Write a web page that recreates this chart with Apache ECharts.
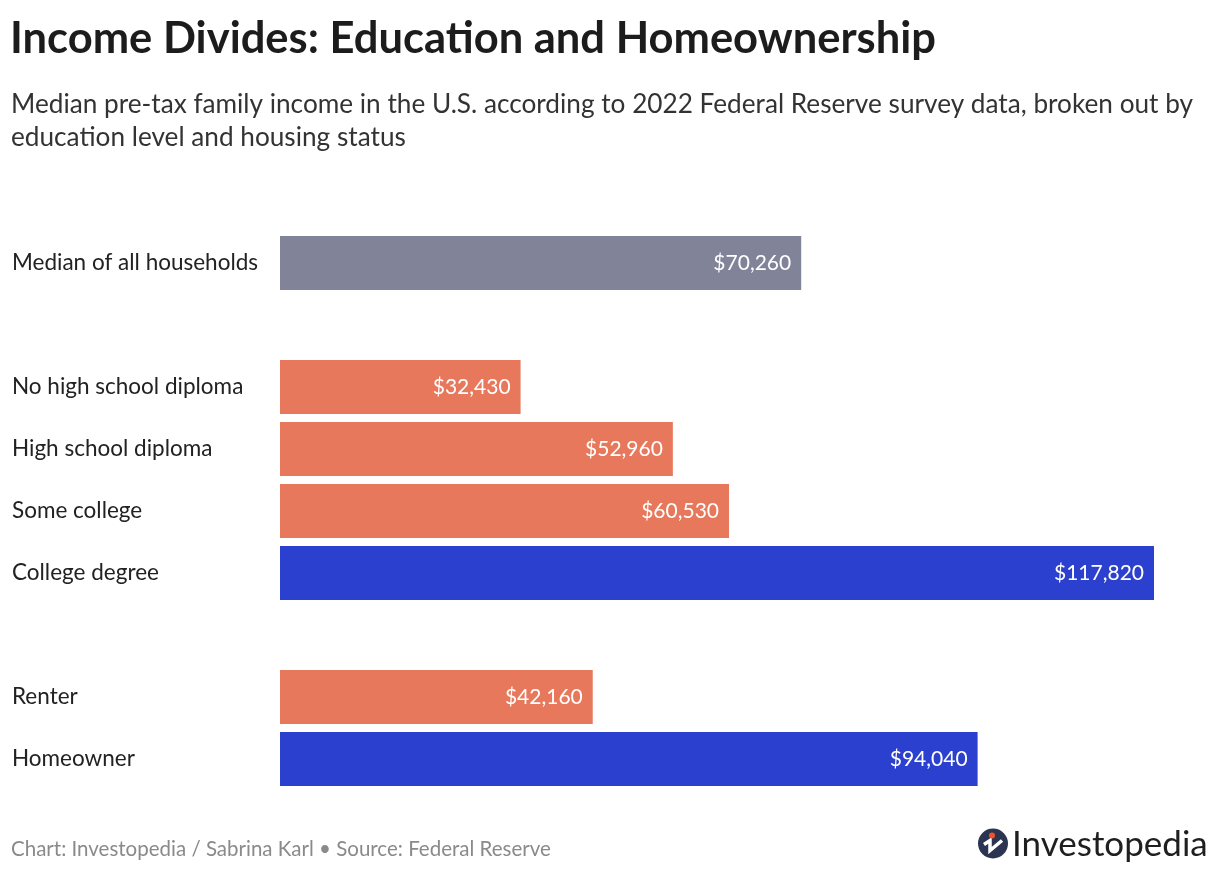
<!DOCTYPE html>
<html>
<head>
<meta charset="utf-8">
<title>Income Divides: Education and Homeownership</title>
<script src="https://cdn.jsdelivr.net/npm/echarts@6/dist/echarts.min.js"></script>
<style>
  html, body { margin: 0; padding: 0; background: #fff; }
  #main { width: 1220px; height: 872px; }
</style>
</head>
<body>
<div id="main"></div>
<script>
// 数据：空字符串是分组之间的空行
var categories = ['Median of all households', '', 'No high school diploma', 'High school diploma',
                  'Some college', 'College degree', '', 'Renter', 'Homeowner'];
var incomes = [70260, '-', 32430, 52960, 60530, 117820, '-', 42160, 94040];
var barColors = ['#818398', null, '#e8785b', '#e8785b', '#e8785b', '#2c40cf', null, '#e8785b', '#2c40cf'];

var FONT = 'Lato, "Noto Sans", sans-serif';

var myChart = echarts.init(document.getElementById('main'));

var option = {
    backgroundColor: '#fff',
    animation: false,
    title: [{
        text: 'Income Divides: Education and Homeownership',
        left: 10,
        top: 17,
        padding: 0,
        textStyle: { fontFamily: FONT, fontSize: 43.5, fontWeight: 'bold', color: '#1c1c1c' }
    }, {
        text: 'Median pre-tax family income in the U.S. according to 2022 Federal Reserve survey data, broken out by\neducation level and housing status',
        left: 11,
        top: 88,
        padding: 0,
        textStyle: { fontFamily: FONT, fontSize: 26.2, fontWeight: 'normal', color: '#333', lineHeight: 33 }
    }, {
        text: 'Chart: Investopedia / Sabrina Karl \u2022 Source: Federal Reserve',
        left: 11,
        top: 839,
        padding: 0,
        textStyle: { fontFamily: FONT, fontSize: 20.5, fontWeight: 'normal', color: '#8a8a8a' }
    }],
    grid: {
        left: 280,
        top: 232,
        width: 874,
        height: 558,
        containLabel: false
    },
    xAxis: {
        type: 'value',
        min: 0,
        max: 117820,
        show: false
    },
    yAxis: {
        type: 'category',
        inverse: true,
        data: categories,
        axisLine: { show: false },
        axisTick: { show: false },
        axisLabel: {
            align: 'left',
            margin: 268,
            fontFamily: FONT,
            fontSize: 22.5,
            color: '#222'
        }
    },
    series: [{
        type: 'bar',
        barCategoryGap: '13%',
        data: incomes.map(function (v, i) {
            return { value: v, itemStyle: { color: barColors[i] || '#ccc' } };
        }),
        label: {
            show: true,
            position: 'insideRight',
            distance: 10,
            fontFamily: FONT,
            fontSize: 21,
            color: '#fff',
            formatter: function (p) {
                return '$' + Number(p.value).toLocaleString('en-US');
            }
        }
    }],
    graphic: [{
        type: 'group',
        left: 978,
        top: 827,
        children: [{
            type: 'circle',
            shape: { cx: 15, cy: 15, r: 15 },
            style: { fill: '#2b3551' }
        }, {
            type: 'polyline',
            shape: { points: [[6, 16], [12, 12], [12, 22], [24, 12]] },
            style: { stroke: '#fff', lineWidth: 3.5, fill: null, lineJoin: 'miter' }
        }, {
            type: 'circle',
            shape: { cx: 14, cy: 7, r: 3 },
            style: { fill: '#f0522e' }
        }, {
            type: 'text',
            x: 34,
            y: 16,
            style: {
                text: 'Investopedia',
                fontFamily: FONT,
                fontSize: 35,
                fill: '#1f1f1f',
                verticalAlign: 'middle'
            }
        }]
    }]
};

myChart.setOption(option);
</script>
</body>
</html>
